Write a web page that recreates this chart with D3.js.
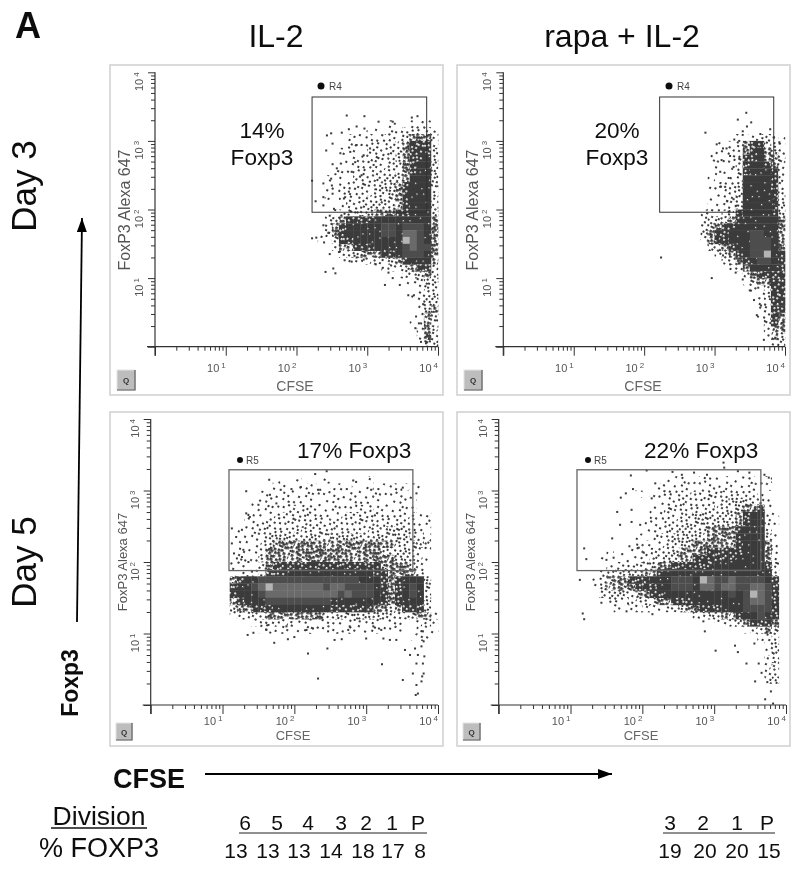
<!DOCTYPE html>
<html>
<head>
<meta charset="utf-8">
<script src="https://cdn.jsdelivr.net/npm/d3@7"></script>
<style>
  html, body { margin: 0; padding: 0; background: #fff; }
  text { font-family: "Liberation Sans", Arial, sans-serif; }
</style>
</head>
<body>
<svg id="fig" width="800" height="871"></svg>
<script>
// density: one string per 0.1 decade of FoxP3, top row first
// '.' empty, 1-5 more and more dots, 6 almost solid, 7-9 the solid blocks from dark to the light peak
var densIl2Day3 = [
  "...........1..111.", ".......1.111122221", ".....1112122234442", ".....1112222345552",
  "....11112222345553", "....11122222345563", "....11122222245663", "...111222222345663",
  "..1.11222233346663", "..1112222333456663", "..1112222333456663", "..1.12223333456663",
  "...112223333456663", "...122333444556663", "..1345555666666664", "..2456666677677764",
  ".12456666677688764", ".1.355666666698764", "...244555666678774", "....23344455677764",
  ".....1122233456664", "..........11234553", "............122343", ".............11233",
  "...............133", "..............1133", "...............133", "...............134",
  "...............143", "..............1143", "...............243", "...............243",
  "................33"
];
var densRapaDay3 = [
  "...............", "...............", "........1112221", ".....1112455321",
  ".....1112456432", "....11112556442", ".....1112566542", ".....1112566652",
  "....1..12666652", "....11123666652", "....11113666652", "....11123666653",
  "....11123666653", "...111235666653", "..1123345666664", "...234556666664",
  "...345566677664", "...245566677764", "....23456677764", ".....2345677965",
  "......224567765", ".......12466665", ".........245555", ".........134455",
  "..........21355", "...........1355", "...........1255", "...........1255",
  "...........1254", "............254", "............244", "............143",
  ".............13"
];
var densIl2Day5 = [
  "..............................", ".......1..1...1.....1....1....", ".......111111..11.111.111.11..", ".....1111111111111111111111...",
  "....11111111111111111111111...", "....11111222111111122111111...", "...11112222222212222222222211.", "...11122222222222222222222211.",
  "..111222223332222222333333221.", "..111233333333333333333333221.", "..111234444444444444444433332.", "..111244444444444444443333321.",
  "..111344444444444444444433321.", ".111124555555555555555444431..", ".111235556666666666665544442..",
  ".4566777777777777776665456663", ".5667898888888788777765456763", ".5666788888888887877765456763",
  ".4566677777777766666665456663", ".3445556666666655555544345552",
  ".12233444444443333333333223442", "....122222111111111111111.1221", ".....11111111111111111111..111", "..........................111"
];
var densRapaDay5 = [
  "..........111111111111111", ".........1111111111111111", "......1.1122222222222221.", "........11122222222333331",
  "........11222222233334451", "........112222333333456621", ".......1112233333333456621", ".......1112233334444566631",
  "......1.122333334444566631", "......11122333444444566641", "..1..111223344445555566641", ".1..1111223344555555666641",
  "..112223344555555666666652", ".1233334456666666666666663", "13444555666777698778777765", "13444455566777688788778875",
  ".2333344556666666667679875", "..121223344555666666678875", "...1.112112234455566677775", "..............223344566765",
  ".................112345554", ".....................12343", ".......................123", "........................23",
  "........................13", "........................22", ".......................123", "........................22",
  "........................13"
];

// loose single dots [log10 CFSE, log10 FoxP3]
var dotsIl2Day3 = [
  [2.71,3.37],[2.96,3.36],[3.63,3.34],[3.71,3.36],[2.43,3.08],[2.49,3.11],[2.64,3.12],[2.74,3.17],[2.85,3.21],[2.96,3.18],
  [3.16,3.28],[3.36,3.28],[2.42,2.86],[2.51,2.96],[2.62,2.82],[2.51,2.66],[2.57,2.6],[2.22,2.42],[2.38,2.38],[2.49,2.45],
  [2.5,2.35],[2.27,2.12],[2.38,2.18],[2.38,2.06],[2.51,2.23],[2.53,2.01],[2.67,2.16],[2.74,2.26],[2.78,2.55],[2.76,2.84],
  [2.85,2.94],[2.83,2.69],[2.95,2.79],[2.92,2.5],[3.04,2.89],[3.09,2.65],[2.41,1.09],[2.52,1.14],[2.55,1.07],[2.28,1.59],
  [2.22,1.58],[2.38,1.77],[2.47,1.91],[3.25,.9],[3.36,1],[3.46,.9],[3.58,.75],[3.66,.75],[3.69,.44],[3.68,.27],
  [3.82,.27],[3.73,.34],[3.79,.62],[3.85,.18],[3.76,.07],[3.83,.05],[3.88,.12],[2.45,1.66],[2.39,1.52],[2.47,1.35],
  [2.6,1.38],[2.68,1.26],[2.78,1.24],[2.85,1.3],[2.95,1.27],[3.12,1.2],[3.22,1.15],[3.3,1.08]
];
var dotsRapaDay3 = [
  [2.24,1.3],[2.96,1],[2.87,3.12],[3.45,3.41],[3.33,3.31],[3.52,3.27],[3.46,3.21],[3.4,3.14],[3.03,2.95],[3.12,2.89],
  [3.17,2.89],[3.1,2.72],[3.08,2.55],[3.2,2.46],[3.08,2.33],[3.15,2.33],[3.22,2.31],[3.2,1.97],[2.88,1.88],[2.91,1.77],
  [2.96,1.63],[3.03,1.58],[3.6,.46],[3.7,.1],[3.28,3.02],[3.35,3],[3.22,2.78],[3.27,2.62],[3.35,2.74],[3.18,2.12],
  [3.27,2.15],[3.3,2.05],[3,1.53],[3.05,1.4],[3.12,1.33],[3.22,1.2],[3.3,1.08],[3.4,.98],[3.5,.82],[3.56,.68],
  [3.62,.86],[3.66,.6],[3.79,3.17],[3.84,3.05],[3.65,3.1],[3.92,2.98]
];
var dotsIl2Day5 = [
  [2.29,3.23],[2.45,3.27],[1.65,3.15],[1.33,2.99],[2.82,3.14],[2.86,3.12],[3.51,3.04],[3.7,2.96],[1.81,3.01],[1.96,3.02],
  [2.09,3.05],[2.33,3.01],[2.36,3.01],[2.73,3.02],[3.17,3.02],[3.07,3.01],[1.13,2.47],[1.19,2.35],[1.13,2.26],[1.16,2.12],
  [1.2,2.05],[1.33,2.68],[1.27,2.45],[1.38,2.63],[1.29,2.17],[1.27,2.07],[1.36,2],[1.5,2.8],[1.66,2.94],[1.75,2.82],
  [1.35,.98],[1.43,1.01],[1.72,.87],[1.91,.92],[2,.95],[2.19,.72],[2.33,.37],[2.46,.79],[3.22,.57],[3.51,.35],
  [1.61,1.05],[1.64,1.12],[1.89,1.1],[2.17,1.05],[2.26,1.07],[2.47,1.03],[2.56,.91],[2.66,.92],[2.75,1.05],[2.77,1.1],
  [2.84,1.19],[2.91,1.17],[3,.93],[3.1,1.1],[3.21,1.05],[3.24,.93],[3.33,.91],[3.42,.91],[3.54,.77],[3.61,.7],
  [3.68,.79],[3.72,.7],[3.79,1.03],[3.8,.89],[3.77,.82],[3.81,.68],[3.7,.58],[3.79,.58],[3.65,.44],[3.8,.44],
  [3.78,.4],[3.7,.28],[3.77,.33],[3.69,.14],[3.72,.16]
];
var dotsRapaDay5 = [
  [1.13,1.75],[1.19,2.19],[1.22,2.04],[1.17,1.28],[1.19,1.2],[1.43,1.43],[1.65,2.7],[1.7,2.9],[1.77,2.96],[1.87,3.02],
  [1.84,3.21],[1.69,2.52],[1.58,2.33],[1.85,2.73],[1.85,2.56],[1.97,2.52],[2.06,3.28],[2.18,3.1],[2.13,2.89],[3.13,3.39],
  [3.14,3.32],[2.87,1.03],[3.02,.76],[3.33,.74],[3.29,.83],[3.45,.58],[3.57,.33],[3.71,.08],[3.82,.02],[3.79,.19],
  [1.8,1.42],[1.78,1.31],[2.14,1.27],[2.85,1.17],[1.5,2.03],[1.6,2.06],[1.72,2.11],[1.82,2.22],[1.95,2.2],[2.02,2.13],
  [2.42,3.26],[2.55,3.22],[2.72,3.25],[2.9,3.22],[3.33,3.27],[3.49,3.25],[3.7,3.22],[3.76,3.18],[3.56,.86],[3.62,.58],
  [3.66,.45],[3.74,.32]
];

var gateDay3 = { x: [2.22, 3.84], y: [1.96, 3.64] };
var gateDay5 = { x: [1.09, 3.65], y: [1.88, 3.29] };
var divisionsIl2 = ["6", "5", "4", "3", "2", "1", "P"];
var percentIl2 = ["13", "13", "13", "14", "18", "17", "8"];
var divisionsRapa = ["3", "2", "1", "P"];
var percentRapa = ["19", "20", "20", "15"];

// stipple texture for the bins
var tileDots = [
  [3,4],[17,2],[26,9],[9,13],[21,16],[2,22],[14,25],[27,24],[11,6],[6,18],[23,3],[15,10],[28,15],[18,28],
  [4,15],[17,20],[8,27],[22,27],[1,10],[12,19],[25,20],[7,1],[20,7],[13,3],[0,27],[6,8],[19,12],[24,13],
  [10,23],[16,28],[29,5],[11,15],[27,18],[4,26],[21,23],[1,1],[9,4],[15,6],[22,10],[5,12],[14,14],[24,26],
  [28,1],[19,18],[2,18],[8,21],[13,22],[28,28],[17,24],[25,6],[10,9],[16,16],[23,20],[5,23],[0,14],[12,28],
  [20,1],[7,15],[26,13],[3,8],[18,5],[10,1],[29,11],[15,21],[22,14],[6,27],[13,11],[25,16],[3,20],[19,25],
  [8,6],[29,21]
];
var tileCount = [0, 20, 36, 54, 72, 44, 12];
var tileSize = [0, 2, 2, 2, 2.7, 1.8, 1.2];
var blockColor = { 7: "#4e4e4e", 8: "#6b6b6b", 9: "#b4b4b4" };

var panels = [
  { dens: densIl2Day3, col0: 22, rowTop: 32, dots: dotsIl2Day3, gate: gateDay3, frame: [110, 65, 333, 330], x: [155, 438], y: [346.7, 72.3],
    region: "R4", mark: [321, 86, 3.5], regionX: 329, regionY: 90, btn: [117, 370, 18, 20], labelSize: 16, labelX: 124, labelCy: 210,
    cfse: [295, 390.7, 14], tickBase: 372, yTickX: 143, gateColor: "#333", gateW: 1 },
  { dens: densRapaDay3, col0: 25, rowTop: 32, dots: dotsRapaDay3, gate: gateDay3, frame: [457, 65, 333, 330], x: [503.3, 785], y: [346.7, 72.3],
    region: "R4", mark: [669, 86, 3.5], regionX: 677, regionY: 90, btn: [464, 370, 18, 20], labelSize: 16, labelX: 472, labelCy: 210,
    cfse: [643, 390.7, 14], tickBase: 372, yTickX: 491, gateColor: "#333", gateW: 1 },
  { dens: densIl2Day5, col0: 10, rowTop: 32, dots: dotsIl2Day5, gate: gateDay5, frame: [110, 412, 333, 334], x: [150.7, 438], y: [705, 419],
    region: "R5", mark: [240, 460, 3], regionX: 246, regionY: 464, btn: [116, 723, 16, 17], labelSize: 13, labelX: 122, labelCy: 562,
    cfse: [293, 740, 13], tickBase: 725, yTickX: 139, gateColor: "#666", gateW: 1.3 },
  { dens: densRapaDay5, col0: 13, rowTop: 31, dots: dotsRapaDay5, gate: gateDay5, frame: [457, 412, 333, 334], x: [498.7, 786], y: [705, 419],
    region: "R5", mark: [588, 460, 3], regionX: 594, regionY: 464, btn: [463, 723, 17, 17], labelSize: 13, labelX: 470, labelCy: 562,
    cfse: [641, 740, 13], tickBase: 725, yTickX: 487, gateColor: "#666", gateW: 1.3 }
];

var root = d3.select("#fig");
var defs = root.append("defs");
defs.append("filter").attr("id", "soft")
  .attr("filterUnits", "userSpaceOnUse")
  .attr("x", 0).attr("y", 0).attr("width", 800).attr("height", 871)
  .append("feGaussianBlur").attr("stdDeviation", 0.4);
// the whole figure is a soft scan, so everything goes through the same blur
root.append("rect").attr("width", 800).attr("height", 871).attr("fill", "#fff");
var svg = root.append("g").attr("filter", "url(#soft)");

[1, 2, 3, 4, 5, 6].forEach(function(level) {
  var pat = defs.append("pattern")
    .attr("id", "lv" + level)
    .attr("patternUnits", "userSpaceOnUse")
    .attr("patternTransform", "rotate(27)")
    .attr("width", 30).attr("height", 30);
  // 5 and 6 are dark with white holes, the others dark dots on white
  if (level >= 5) {
    pat.append("rect").attr("width", 30).attr("height", 30).attr("fill", "#3a3a3a");
  }
  pat.selectAll("rect.d").data(tileDots.slice(0, tileCount[level])).enter().append("rect")
    .attr("class", "d")
    .attr("x", function(d) { return d[0]; })
    .attr("y", function(d) { return d[1]; })
    .attr("width", tileSize[level]).attr("height", tileSize[level])
    .attr("fill", level >= 5 ? "#fff" : "#3a3a3a");
});

function supTick(g, value, size) {
  g.append("tspan").text("10");
  g.append("tspan").attr("dx", 2).attr("dy", -4).attr("font-size", size - 3).text(Math.log10(value));
}

panels.forEach(function(p) {
  var g = svg.append("g");
  g.append("rect")
    .attr("x", p.frame[0]).attr("y", p.frame[1])
    .attr("width", p.frame[2]).attr("height", p.frame[3])
    .attr("fill", "#fff").attr("stroke", "#cfcfcf").attr("stroke-width", 1.5);

  var x = d3.scaleLog().domain([1, 10000]).range(p.x);
  var y = d3.scaleLog().domain([1, 10000]).range(p.y);

  var cells = [];
  p.dens.forEach(function(row, i) {
    row.split("").forEach(function(ch, j) {
      if (ch !== ".") cells.push({ c: p.col0 + j, r: p.rowTop - i, level: +ch });
    });
  });

  var plot = g.append("g");
  plot.selectAll("rect.bin").data(cells).enter().append("rect")
    .attr("class", "bin")
    .attr("x", function(d) { return x(Math.pow(10, d.c / 10)); })
    .attr("y", function(d) { return y(Math.pow(10, (d.r + 1) / 10)); })
    .attr("width", function(d) { return x(Math.pow(10, (d.c + 1) / 10)) - x(Math.pow(10, d.c / 10)) + 0.3; })
    .attr("height", function(d) { return y(Math.pow(10, d.r / 10)) - y(Math.pow(10, (d.r + 1) / 10)) + 0.3; })
    .attr("fill", function(d) { return d.level > 6 ? blockColor[d.level] : "url(#lv" + d.level + ")"; });

  plot.selectAll("rect.dot").data(p.dots).enter().append("rect")
    .attr("class", "dot")
    .attr("x", function(d) { return x(Math.pow(10, d[0])) - 1; })
    .attr("y", function(d) { return y(Math.pow(10, d[1])) - 1; })
    .attr("width", 2).attr("height", 2)
    .attr("fill", "#3a3a3a");

  // axes: long tick on each decade, short one between
  var isMajor = function(v) { return Number.isInteger(Math.log10(v)); };
  var xAxis = d3.axisBottom(x).tickValues(x.ticks()).tickSize(4).tickFormat("");
  var yAxis = d3.axisLeft(y).tickValues(y.ticks()).tickSize(4).tickFormat("");
  var gx = g.append("g").attr("transform", "translate(0," + p.y[0] + ")").call(xAxis);
  var gy = g.append("g").attr("transform", "translate(" + p.x[0] + ",0)").call(yAxis);
  gx.select(".domain").attr("d", "M" + (p.x[0] - 8) + ",0H" + p.x[1]).attr("stroke", "#333").attr("stroke-width", 1.2);
  gy.select(".domain").attr("d", "M0," + (p.y[0] + 9) + "V" + p.y[1]).attr("stroke", "#333").attr("stroke-width", 1.2);
  gx.selectAll(".tick line").attr("stroke", "#333").attr("y2", function(d) { return isMajor(d) ? 9 : 4; });
  gy.selectAll(".tick line").attr("stroke", "#333").attr("x2", function(d) { return isMajor(d) ? -7 : -4; });

  [10, 100, 1000, 10000].forEach(function(v) {
    var t = g.append("text").attr("x", x(v)).attr("y", p.tickBase)
      .attr("text-anchor", "end").attr("font-size", 11).attr("fill", "#555");
    supTick(t, v, 11);
  });
  [10, 100, 1000, 10000].forEach(function(v) {
    var t = g.append("text")
      .attr("transform", "translate(" + p.yTickX + "," + y(v) + ") rotate(-90)")
      .attr("text-anchor", "end").attr("font-size", 11).attr("fill", "#555");
    supTick(t, v, 11);
  });

  g.append("text")
    .attr("transform", "translate(" + p.labelX + "," + p.labelCy + ") rotate(-90)")
    .attr("text-anchor", "middle").attr("dy", "0.35em")
    .attr("font-size", p.labelSize).attr("fill", "#555").text("FoxP3 Alexa 647");
  g.append("text")
    .attr("x", p.cfse[0]).attr("y", p.cfse[1])
    .attr("text-anchor", "middle").attr("font-size", p.cfse[2]).attr("fill", "#666").text("CFSE");

  // gate and its region marker
  g.append("rect")
    .attr("x", x(Math.pow(10, p.gate.x[0])))
    .attr("y", y(Math.pow(10, p.gate.y[1])))
    .attr("width", x(Math.pow(10, p.gate.x[1])) - x(Math.pow(10, p.gate.x[0])))
    .attr("height", y(Math.pow(10, p.gate.y[0])) - y(Math.pow(10, p.gate.y[1])))
    .attr("fill", "none").attr("stroke", p.gateColor).attr("stroke-width", p.gateW);
  g.append("circle").attr("cx", p.mark[0]).attr("cy", p.mark[1]).attr("r", p.mark[2]).attr("fill", "#111");
  g.append("text").attr("x", p.regionX).attr("y", p.regionY).attr("font-size", 10).attr("fill", "#444").text(p.region);

  // Q button
  g.append("rect").attr("x", p.btn[0]).attr("y", p.btn[1]).attr("width", p.btn[2]).attr("height", p.btn[3])
    .attr("fill", "#bdbdbd").attr("stroke", "#e4e4e4");
  g.append("path")
    .attr("d", "M" + p.btn[0] + "," + (p.btn[1] + p.btn[3]) + "h" + p.btn[2] + "v" + (-p.btn[3]))
    .attr("fill", "none").attr("stroke", "#555").attr("stroke-width", 1.2);
  g.append("text").attr("x", p.btn[0] + p.btn[2] / 2).attr("y", p.btn[1] + p.btn[3] / 2 + 3)
    .attr("text-anchor", "middle").attr("font-size", 8).attr("font-weight", "bold").attr("fill", "#333").text("Q");
});

function label(txt, px, py, size, opts) {
  opts = opts || {};
  var t = svg.append("text")
    .attr("font-size", size).attr("fill", "#111")
    .attr("text-anchor", opts.anchor || "middle")
    .attr("font-weight", opts.bold ? "bold" : null)
    .text(txt);
  if (opts.rotate) t.attr("transform", "translate(" + px + "," + py + ") rotate(-90)");
  else t.attr("x", px).attr("y", py);
  return t;
}

label("A", 15, 38, 36, { anchor: "start", bold: true });
label("IL-2", 276, 47, 32);
label("rapa + IL-2", 622, 47, 32);
label("Day 3", 36, 186, 35, { rotate: true });
label("Day 5", 36, 562, 35, { rotate: true });
label("14%", 262, 138, 22.6);
label("Foxp3", 262, 165, 22.6);
label("20%", 617, 138, 22.6);
label("Foxp3", 617, 165, 22.6);
label("17% Foxp3", 297, 458, 22.6, { anchor: "start" });
label("22% Foxp3", 644, 458, 22.6, { anchor: "start" });
label("Foxp3", 78, 683, 23, { rotate: true, bold: true });
label("CFSE", 113, 788, 27, { anchor: "start", bold: true });
label("Division", 99, 825, 26.5);
label("% FOXP3", 99, 857, 27);

defs.append("marker").attr("id", "head")
  .attr("markerUnits", "userSpaceOnUse").attr("viewBox", "0 0 14 10")
  .attr("refX", 14).attr("refY", 5).attr("markerWidth", 14).attr("markerHeight", 10).attr("orient", "auto")
  .append("path").attr("d", "M0,0L14,5L0,10Z").attr("fill", "#000");
svg.append("line").attr("x1", 77).attr("y1", 622).attr("x2", 82).attr("y2", 218)
  .attr("stroke", "#000").attr("stroke-width", 1.8).attr("marker-end", "url(#head)");
svg.append("line").attr("x1", 205).attr("y1", 774).attr("x2", 612).attr("y2", 774)
  .attr("stroke", "#000").attr("stroke-width", 1.8).attr("marker-end", "url(#head)");
svg.append("line").attr("x1", 51).attr("y1", 828).attr("x2", 147).attr("y2", 828).attr("stroke", "#111").attr("stroke-width", 1.5);

// division table under the plots
var il2TopX = [245, 277, 308, 341, 366, 392, 418];
var il2BotX = [236, 268, 299, 331, 363, 393, 420];
var rapaTopX = [670, 703, 737, 767];
var rapaBotX = [670, 705, 737, 769];
divisionsIl2.forEach(function(d, i) { label(d, il2TopX[i], 830, 21); });
percentIl2.forEach(function(d, i) { label(d, il2BotX[i], 858, 21); });
divisionsRapa.forEach(function(d, i) { label(d, rapaTopX[i], 830, 21); });
percentRapa.forEach(function(d, i) { label(d, rapaBotX[i], 858, 21); });
svg.append("line").attr("x1", 239).attr("y1", 833).attr("x2", 427).attr("y2", 833).attr("stroke", "#222").attr("stroke-width", 1.2);
svg.append("line").attr("x1", 663).attr("y1", 833).attr("x2", 775).attr("y2", 833).attr("stroke", "#222").attr("stroke-width", 1.2);
</script>
</body>
</html>
